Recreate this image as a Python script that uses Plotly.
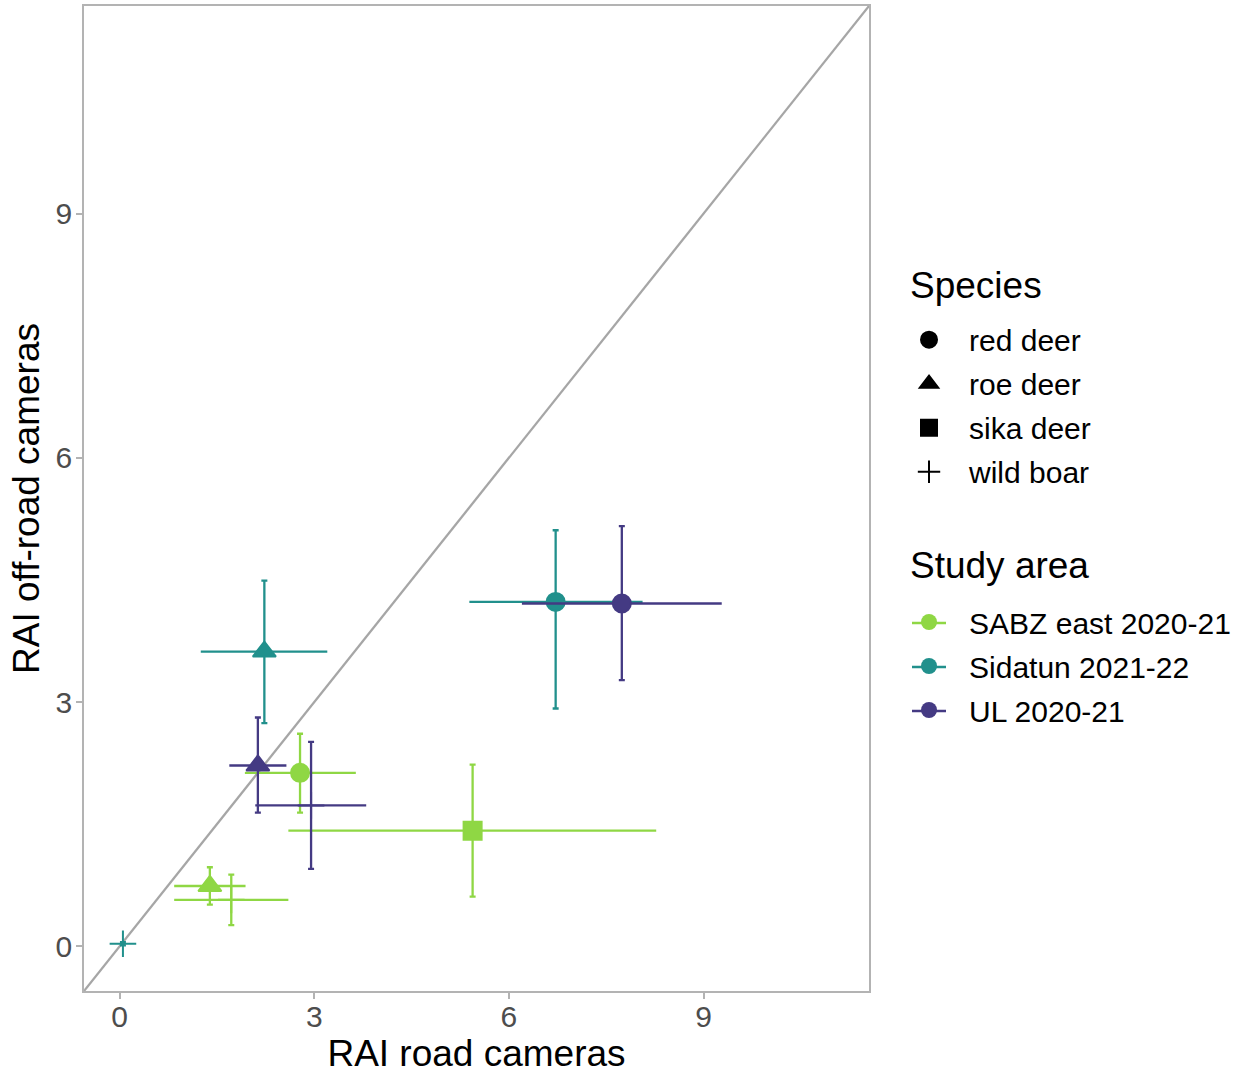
import plotly.graph_objects as go

# Relative abundance index (RAI) per species and study area,
# road cameras (x) versus off-road cameras (y), with confidence intervals
species = ["wild boar", "roe deer", "wild boar", "red deer", "sika deer",
           "roe deer", "red deer",
           "roe deer", "wild boar", "red deer"]
area = ["Sidatun 2021-22", "SABZ east 2020-21", "SABZ east 2020-21", "SABZ east 2020-21", "SABZ east 2020-21",
        "Sidatun 2021-22", "Sidatun 2021-22",
        "UL 2020-21", "UL 2020-21", "UL 2020-21"]
rai_road = [0.05, 1.39, 1.72, 2.78, 5.44, 2.23, 6.72, 2.13, 2.95, 7.74]
rai_road_lo = [0.02, 0.84, 0.84, 1.93, 2.60, 1.25, 5.39, 1.69, 2.09, 6.20]
rai_road_hi = [0.08, 1.94, 2.60, 3.64, 8.27, 3.20, 8.06, 2.57, 3.80, 9.28]
rai_off = [0.03, 0.74, 0.57, 2.13, 1.42, 3.62, 4.23, 2.22, 1.73, 4.21]
rai_off_lo = [0.01, 0.51, 0.26, 1.64, 0.61, 2.74, 2.92, 1.64, 0.95, 3.27]
rai_off_hi = [0.05, 0.97, 0.88, 2.61, 2.23, 4.49, 5.11, 2.81, 2.51, 5.16]

species_levels = ["red deer", "roe deer", "sika deer", "wild boar"]
area_levels = ["SABZ east 2020-21", "Sidatun 2021-22", "UL 2020-21"]
area_colors = {"SABZ east 2020-21": "#8FD744",
               "Sidatun 2021-22": "#21908C",
               "UL 2020-21": "#443A83"}
species_symbol = {"red deer": "circle", "roe deer": "triangle-up",
                  "sika deer": "square", "wild boar": "cross-thin"}
species_size = {"red deer": 18, "roe deer": 20, "sika deer": 18, "wild boar": 19}

axis_range = [-0.55, 11.55]
ticks = [0, 3, 6, 9]
FONT = "Liberation Sans, Arial, sans-serif"

# figure geometry (px)
W, H = 1239, 1074
M_L, M_R, M_T, M_B = 84, 370, 6, 83
PLOT_W, PLOT_H = W - M_L - M_R, H - M_T - M_B


def px_x(p):
    return (p - M_L) / PLOT_W


def px_y(p):
    return (H - M_B - p) / PLOT_H


fig = go.Figure()

# 1:1 reference line
fig.add_trace(go.Scatter(x=axis_range, y=axis_range, mode="lines",
                         line=dict(color="#A6A6A6", width=2.3),
                         showlegend=False, hoverinfo="skip"))

for a in area_levels:
    idx = [i for i, v in enumerate(area) if v == a]
    xs = [rai_road[i] for i in idx]
    ys = [rai_off[i] for i in idx]
    col = area_colors[a]
    fig.add_trace(go.Scatter(
        x=xs, y=ys, mode="markers", name=a, showlegend=False,
        marker=dict(symbol=[species_symbol[species[i]] for i in idx],
                    size=[species_size[species[i]] for i in idx],
                    color=col, opacity=1, line=dict(color=col, width=2)),
        error_x=dict(type="data", symmetric=False,
                     array=[rai_road_hi[i] - rai_road[i] for i in idx],
                     arrayminus=[rai_road[i] - rai_road_lo[i] for i in idx],
                     color=col, thickness=2.3, width=0),
        error_y=dict(type="data", symmetric=False,
                     array=[rai_off_hi[i] - rai_off[i] for i in idx],
                     arrayminus=[rai_off[i] - rai_off_lo[i] for i in idx],
                     color=col, thickness=2.3, width=3),
    ))

# Species legend (shape)
for s in species_levels:
    fig.add_trace(go.Scatter(
        x=[None], y=[None], mode="markers", name=s, legend="legend", legendgroup=s,
        marker=dict(symbol=species_symbol[s], size=16, color="black", opacity=1,
                    line=dict(color="black", width=2)),
    ))

# Study area legend (colour)
for a in area_levels:
    fig.add_trace(go.Scatter(
        x=[None], y=[None], mode="markers", name=a, legend="legend2", legendgroup=a,
        marker=dict(symbol="circle", size=16, color=area_colors[a], opacity=1),
    ))

# short coloured key lines behind the study-area legend dots
key_rows = [623, 667, 711]
key_shapes = [dict(type="line", xref="paper", yref="paper",
                   x0=px_x(912), x1=px_x(946), y0=px_y(r), y1=px_y(r),
                   line=dict(color=area_colors[a], width=2.3), layer="above")
              for a, r in zip(area_levels, key_rows)]

axis_common = dict(range=axis_range, tickvals=ticks, showgrid=False, zeroline=False,
                   showline=True, mirror=True, linecolor="#B3B3B3", linewidth=1.5,
                   ticks="outside", ticklen=6, tickwidth=1.5, tickcolor="#B3B3B3",
                   automargin=False,
                   tickfont=dict(family=FONT, size=30, color="#4D4D4D"))

legend_common = dict(font=dict(family=FONT, size=30), xanchor="left", yanchor="top",
                     itemwidth=70, tracegroupgap=2, bgcolor="rgba(0,0,0,0)")

fig.update_layout(
    width=W, height=H,
    margin=dict(l=M_L, r=M_R, t=M_T, b=M_B, autoexpand=False),
    paper_bgcolor="white", plot_bgcolor="white",
    font=dict(family=FONT, color="black"),
    xaxis=dict(**axis_common, ticklabelstandoff=-8,
               title=dict(text="RAI road cameras", font=dict(family=FONT, size=37), standoff=8)),
    yaxis=dict(**axis_common, ticklabelstandoff=-2,
               title=dict(text="RAI off-road cameras", font=dict(family=FONT, size=37), standoff=5)),
    legend=dict(**legend_common, x=1.0255, y=0.6876),
    legend2=dict(**legend_common, x=1.0255, y=0.401),
    shapes=key_shapes,
    annotations=[
        dict(text="Species", x=px_x(908), y=px_y(285), xref="paper", yref="paper",
             xanchor="left", yanchor="middle", showarrow=False,
             font=dict(family=FONT, size=37, color="black")),
        dict(text="Study area", x=px_x(908), y=px_y(566), xref="paper", yref="paper",
             xanchor="left", yanchor="middle", showarrow=False,
             font=dict(family=FONT, size=37, color="black")),
    ],
)

fig.write_html("out.html")
